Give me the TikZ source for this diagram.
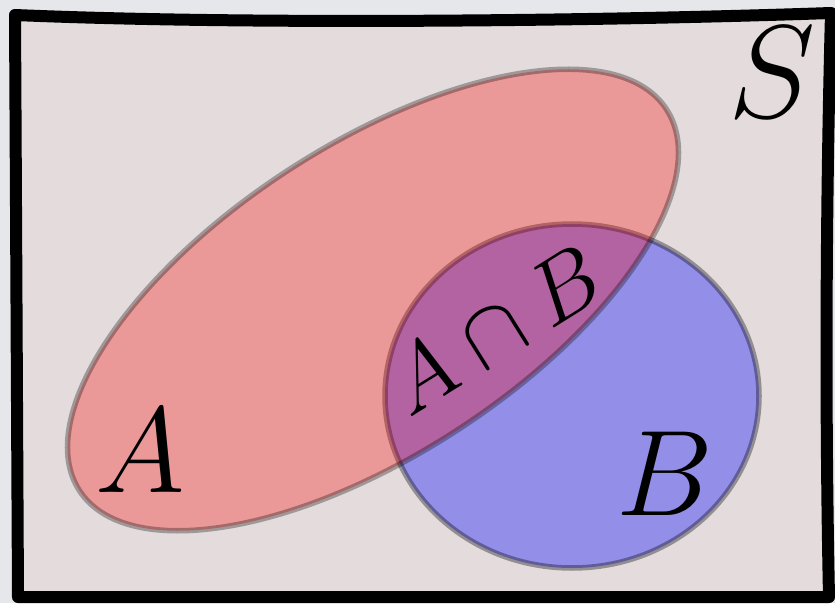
\documentclass[tikz,border=0pt]{standalone}
\usepackage{fix-cm}
\usepackage{amsmath,amssymb}
\usepackage{xcolor,tikz}
\definecolor{paper}{HTML}{E5E7EA}
\definecolor{wash}{HTML}{E3DBDC}
\definecolor{setA}{HTML}{FF0000}
\definecolor{setB}{HTML}{0000FF}

\begin{document}
\begin{tikzpicture}[x=1pt,y=1pt,line join=round]
\useasboundingbox (0,0) rectangle (835,603);
\fill[paper] (0,0) rectangle (835,603);
\filldraw[fill=wash,draw=black,line width=12pt] (15,588) .. controls (250,578) and (600,582) .. (831,590)
  .. controls (826,400) and (825,200) .. (829,6) -- (18,6) .. controls (17,200) and (16,400) .. cycle;
\draw[fill=setB,draw=black,opacity=.35,line width=5.5pt] (572,207) ellipse [x radius=187pt,y radius=172pt];
\draw[fill=setA,draw=black,opacity=.3,line width=5.5pt] (373,303) ellipse [x radius=350pt,y radius=155pt,rotate=33];
\node[inner sep=0pt,font=\fontsize{132}{140}\selectfont] (lblS) at (772,531) {$S$};
\node[inner sep=0pt,font=\fontsize{122}{130}\selectfont] (lblA) at (140,152) {$A$};
\node[inner sep=0pt,font=\fontsize{122}{130}\selectfont] (lblB) at (665,129) {$B$};
\node[inner sep=0pt,rotate=32,font=\fontsize{90}{96}\selectfont] (lblAB) at (494,274) {$A\cap B$};
\end{tikzpicture}
\end{document}
